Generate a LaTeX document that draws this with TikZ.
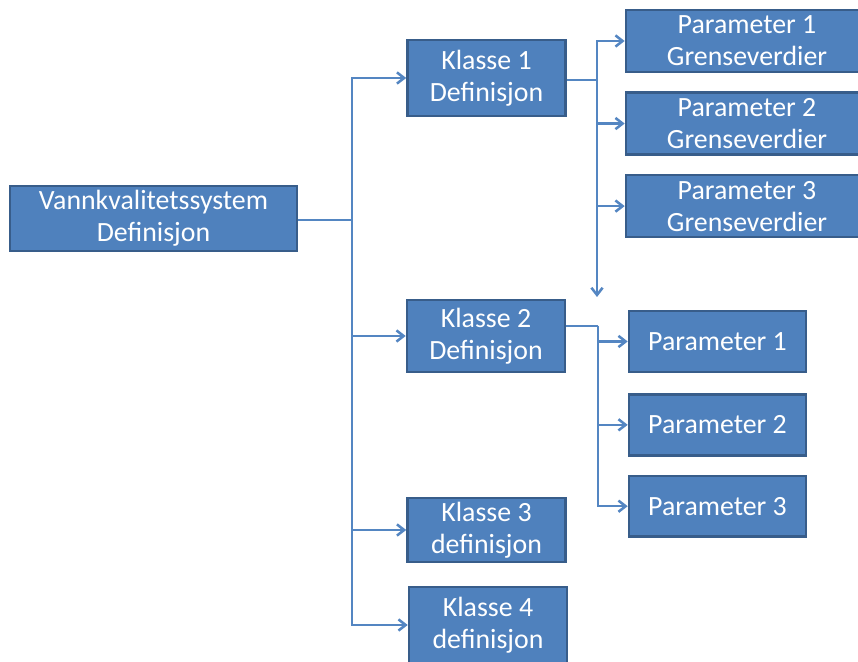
\documentclass[tikz,border=0pt]{standalone}
\usepackage{fontspec}
\setmainfont{Carlito}
\usetikzlibrary{positioning,arrows.meta}
\definecolor{boxfill}{RGB}{79,129,189}
\definecolor{boxline}{RGB}{56,93,138}
\definecolor{linkline}{RGB}{84,134,194}

\begin{document}
\begin{tikzpicture}[
        x=0.025cm, y=-0.025cm,
        node distance=0.5cm,
        every node/.style={font=\fontsize{19.8}{22.8}\selectfont},
        box/.style={draw=boxline, line width=1.8pt, fill=boxfill, text=white, align=center, inner sep=1pt},
        sysbox/.style={box, minimum width=7.175cm, minimum height=1.625cm},
        klasse/.style={box, minimum width=3.95cm, minimum height=1.8cm},
        grense/.style={box, minimum width=6.05cm, minimum height=1.55cm},
        param/.style={box, minimum width=4.425cm, minimum height=1.52cm},
        link/.style={draw=linkline, line width=1.8pt},
        arrow/.style={link, -{Straight Barb[length=1.8mm,width=2.8mm]}}
    ]
        \useasboundingbox (0,0) rectangle (858,662);

        % System
        \node[sysbox] (sys) at (153.5,218.5) {Vannkvalitetssystem\\Definisjon};

        % Classes
        \node[klasse, minimum height=1.9cm] (k1) at (486.5,78) {Klasse 1\\Definisjon};
        \node[klasse] (k2) at (486,336) {Klasse 2\\Definisjon};
        \node[klasse, minimum height=1.6cm] (k3) at (486.5,530) {Klasse 3\\definisjon};
        \node[klasse, minimum height=1.9cm] (k4) at (488,625) {Klasse 4\\definisjon};

        % Parameters of class 1
        \node[grense] (g1) at (747,41) {Parameter 1\\Grenseverdier};
        \node[grense, below=0.45cm of g1] (g2) {Parameter 2\\Grenseverdier};
        \node[grense, below=0.45cm of g2] (g3) {Parameter 3\\Grenseverdier};

        % Parameters of class 2
        \node[param] (p1) at (717.5,341.5) {Parameter 1};
        \node[param, below=0.5cm of p1] (p2) {Parameter 2};
        \node[param, below=0.45cm of p2] (p3) {Parameter 3};

        % Branch points
        \coordinate (sysbus) at (352,220);
        \coordinate (k1bus) at (597,80);
        \coordinate (k1end) at (597,297);
        \coordinate (k2bus) at (598,326);

        % System to classes
        \draw[link] (sys.east |- sysbus) -- (sysbus);
        \foreach \k in {k1,k2,k3,k4}
            \draw[arrow] (sysbus) |- (\k);

        % Class 1 to limits
        \draw[link] (k1.east |- k1bus) -- (k1bus);
        \foreach \g in {g1,g2,g3}
            \draw[arrow] (k1bus) |- (\g);
        \draw[arrow] (k1bus) -- (k1end);

        % Class 2 to parameters
        \draw[link] (k2.east |- k2bus) -- (k2bus);
        \foreach \p in {p1,p2,p3}
            \draw[arrow] (k2bus) |- (\p);
\end{tikzpicture}
\end{document}
